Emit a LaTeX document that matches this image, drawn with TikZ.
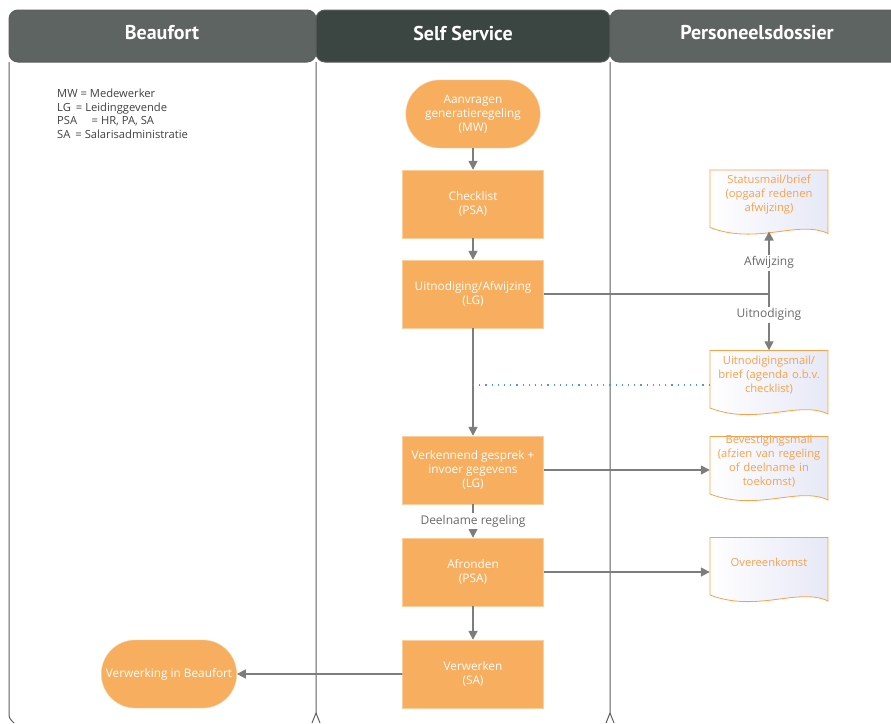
\documentclass[tikz,border=0pt]{standalone}
\usepackage{fontspec}
\setmainfont{Open Sans}
\newfontfamily\headfont{PT Sans}
\usetikzlibrary{shapes.misc,arrows.meta,calc}
\definecolor{boxorange}{HTML}{F7AE5F}
\definecolor{docorange}{HTML}{F5A24C}
\definecolor{doclav}{HTML}{E6E8F6}
\definecolor{flowgray}{HTML}{7D7D7D}
\definecolor{lanegray}{HTML}{5E6461}
\definecolor{lanedark}{HTML}{3B4541}
\definecolor{laneline}{HTML}{5A5F5C}
\definecolor{labelgray}{HTML}{6A6A6A}
\definecolor{dotteal}{HTML}{4AA3AE}
\tikzstyle{arrow} = [-{Triangle[length=9pt,width=9pt]}, line width=1.6pt, flowgray]
\tikzstyle{flow} = [line width=1.6pt, flowgray]
\tikzstyle{task} = [rectangle, fill=boxorange, draw=boxorange!60!white, minimum width=141pt, minimum height=68pt, text=white, align=center, font=\fontsize{11.8}{14}\selectfont]
\tikzstyle{terminal} = [task, rounded rectangle]
\tikzstyle{doc} = [minimum width=118pt, minimum height=49pt, text width=116pt, align=center, inner sep=0pt, text=docorange, font=\fontsize{11.2}{14}\selectfont]
\tikzstyle{lanehead} = [rounded corners=9pt, draw=laneline, line width=1pt]
\tikzstyle{flowlabel} = [fill=white, text=labelgray, inner sep=2pt, font=\fontsize{12}{14}\selectfont]
\newcommand{\docnode}[4]{%
  \path[shift={(#2,#3)}, draw=docorange, line width=0.8pt, left color=white, right color=doclav]
    (-59,-24.5) -- (59,-24.5) -- (59,39)
    .. controls (29.5,25) and (-11.8,51) .. (-59,33) -- cycle;
  \node[doc] (#1) at (#2,#3) {#4};
  \coordinate (#1-b) at ($(#1.center)+(0,37)$);
}

\begin{document}
\begin{tikzpicture}[x=1pt, y=-1pt]
\useasboundingbox (0,0) rectangle (891,723);

% lanes
\draw[laneline, line width=1pt] (9,62) -- (9,712) .. controls (9,718) .. (14,723);
\foreach \lx in {316,610} {
  \draw[laneline, line width=1pt] (\lx,62) -- (\lx,713) -- (\lx-4,723);
  \draw[laneline, line width=1pt] (\lx,713) -- (\lx+4,723);
}
\draw[lanehead, fill=lanegray] (9,10) rectangle (316,62);
\draw[lanehead, fill=lanedark] (316,10) rectangle (610,62);
\draw[lanehead, fill=lanegray] (610,10) rectangle (906,62);
\node[text=white, font=\headfont\bfseries\fontsize{20}{22}\selectfont] (h-beaufort) at (162,33) {Beaufort};
\node[text=white, font=\headfont\bfseries\fontsize{20}{22}\selectfont] (h-self) at (463,33) {Self Service};
\node[text=white, font=\headfont\bfseries\fontsize{20}{22}\selectfont] (h-dossier) at (757,33) {Personeelsdossier};

% legend
\node[anchor=north west, align=left, inner sep=0pt, text=black!75, font=\fontsize{11.2}{13.5}\selectfont] (legend) at (57,89)
  {MW = Medewerker\\ LG\hspace{0.45em}= Leidinggevende\\ PSA\hspace{1.3em}= HR, PA, SA\\ SA\hspace{0.45em}= Salarisadministratie};

% process
\node[terminal] (aanvragen) at (473,114) {Aanvragen\\ generatieregeling\\ (MW)};
\node[task] (checklist) at (473,204) {Checklist\\ (PSA)};
\node[task] (uitnodiging) at (473,294) {Uitnodiging/Afwijzing\\ (LG)};
\node[task] (verkennend) at (473,470) {Verkennend gesprek +\\ invoer gegevens\\ (LG)};
\node[task] (afronden) at (473,572) {Afronden\\ (PSA)};
\node[task] (verwerken) at (473,674) {Verwerken\\ (SA)};
\node[terminal, minimum width=142pt] (beaufort) at (169,674) {Verwerking in Beaufort};

% documents
\docnode{statusmail}{769}{194.5}{Statusmail/brief\\ (opgaaf redenen\\ afwijzing)}
\docnode{uitnmail}{769}{375}{Uitnodigingsmail/\\ brief (agenda o.b.v.\\ checklist)}
\docnode{bevestiging}{769}{461}{Bevestigingsmail\\ (afzien van regeling\\ of deelname in\\ toekomst)}
\docnode{overeenkomst}{769}{562}{Overeenkomst}

% connectors
\coordinate (split) at (769,294);
\coordinate (dot-end) at (710,385);
\draw[arrow] (aanvragen) -- (checklist);
\draw[arrow] (checklist) -- (uitnodiging);
\draw[flow] (uitnodiging.east) -- (split);
\draw[arrow] (split) -- node[flowlabel] {Afwijzing} (statusmail-b);
\draw[arrow] (split) -- node[flowlabel, pos=0.37] {Uitnodiging} (uitnmail.north);
\draw[arrow] (uitnodiging) -- (verkennend);
\draw[dotteal, line width=1.2pt, dash pattern=on 1.2pt off 5pt] (uitnodiging.south |- dot-end) -- (dot-end);
\draw[arrow] (verkennend.east) -- (verkennend.east -| bevestiging.west);
\draw[arrow] (verkennend) -- node[flowlabel] {Deelname regeling} (afronden);
\draw[arrow] (afronden.east) -- (afronden.east -| overeenkomst.west);
\draw[arrow] (afronden) -- (verwerken);
\draw[arrow] (verwerken) -- (beaufort);
\end{tikzpicture}
\end{document}
